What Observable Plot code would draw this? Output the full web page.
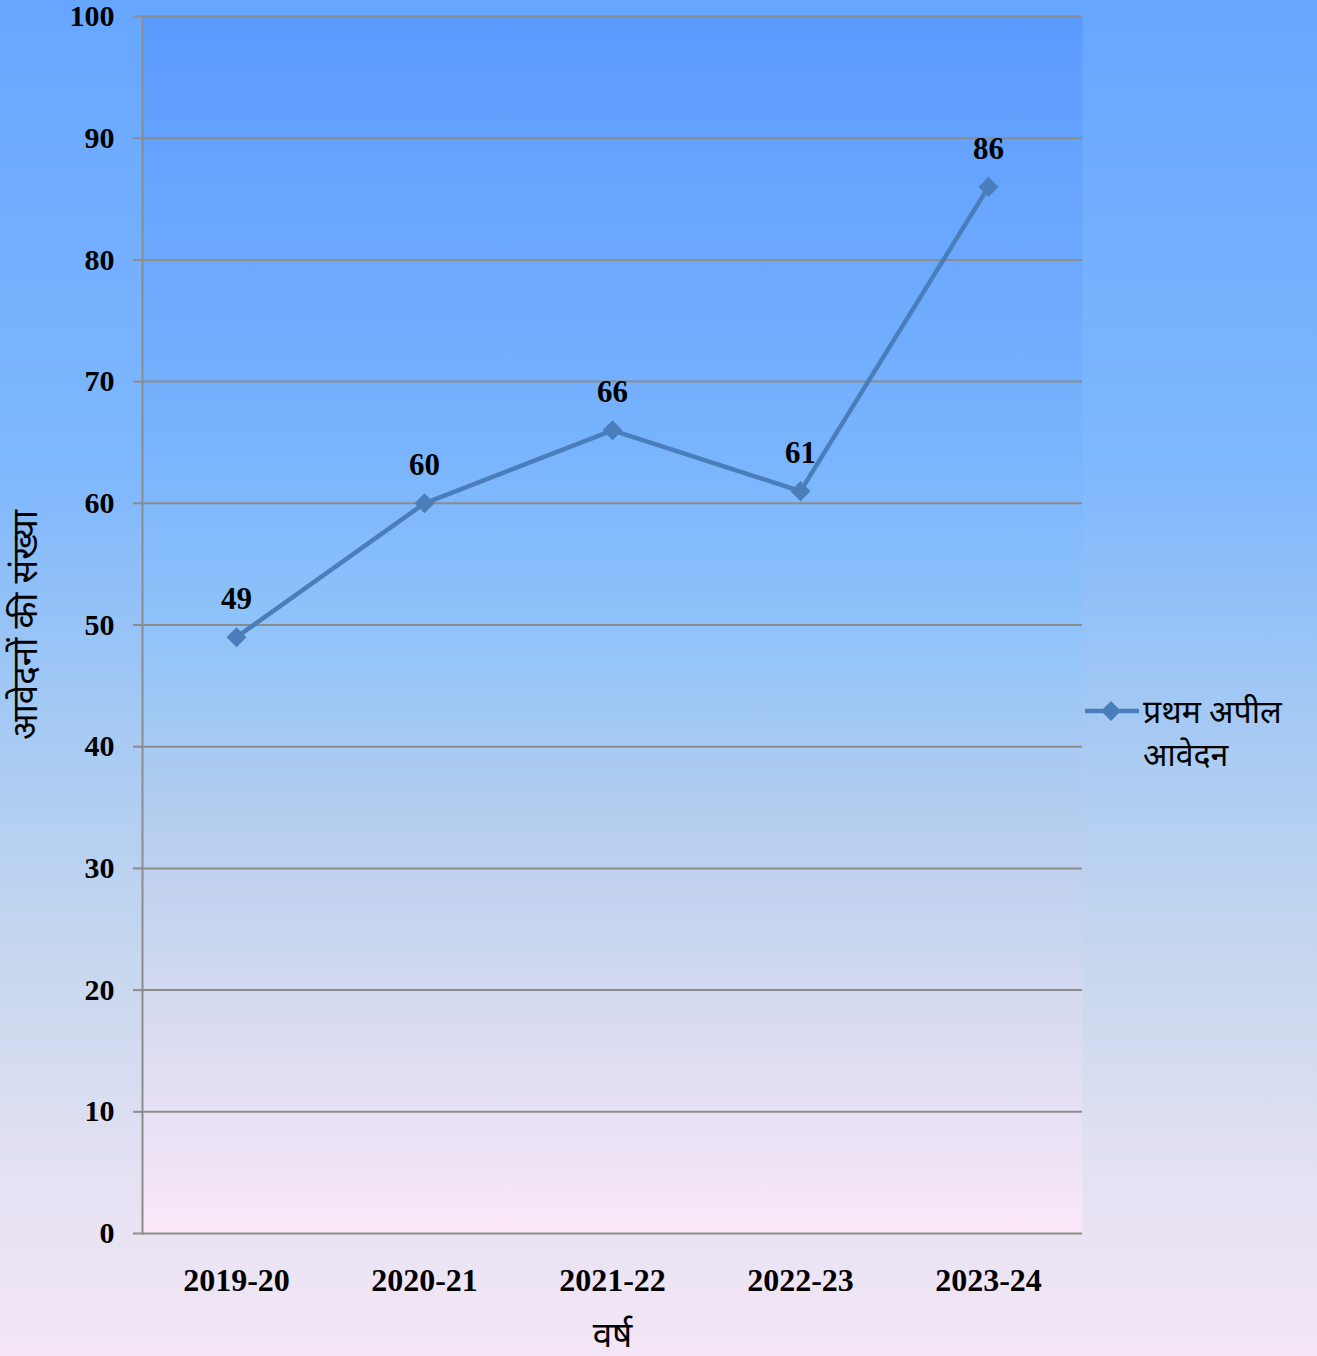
<!DOCTYPE html>
<html>
<head>
<meta charset="utf-8">
<script src="https://cdn.jsdelivr.net/npm/d3@7"></script>
<script src="https://cdn.jsdelivr.net/npm/@observablehq/plot@0.6"></script>
<style>
  html, body { margin: 0; padding: 0; }
  #wrap {
    position: relative; width: 1317px; height: 1356px; overflow: hidden;
    background: linear-gradient(to bottom, #66a6ff 0%, #7fb8fd 35%, #a9cbf3 55%, #c9d8ee 72%, #e6e2f3 88%, #f4e6f6 100%);
  }
  #legend {
    position: absolute; left: 1084px; top: 689px;
    font-family: "Noto Sans", "DejaVu Sans", sans-serif; font-size: 32px; color: #000;
  }
  #legend svg { position: absolute; left: 0; top: 12px; }
  #legend .txt { position: absolute; left: 59px; width: 240px; white-space: nowrap; line-height: 43px; height: 43px; }
</style>
</head>
<body>
<div id="wrap"></div>
<script>
const years = ["2019-20", "2020-21", "2021-22", "2022-23", "2023-24"];
const appeals = [49, 60, 66, 61, 86];
const yTicks = [0, 10, 20, 30, 40, 50, 60, 70, 80, 90, 100];
const yLabel = "आवेदनों की संख्या";
const xLabel = "वर्ष";
const seriesName = ["प्रथम अपील", "आवेदन"];

const data = years.map((y, i) => ({year: y, value: appeals[i]}));
const lineColor = "#4a7ebb";
const gridColor = "#8c8c8c";
const hindiFont = "'Noto Sans', 'DejaVu Sans', sans-serif";

const svg = Plot.plot({
  width: 1317, height: 1356,
  marginLeft: 142, marginRight: 235, marginTop: 16, marginBottom: 123,
  x: {type: "point", domain: years, padding: 0.5},
  y: {domain: [0, 100]},
  style: {fontFamily: "'Liberation Serif', 'Times New Roman', serif", fontWeight: "bold", color: "#000", background: "transparent", overflow: "visible"},
  marks: [
    Plot.frame({fill: "url(#plotGrad)", stroke: null}),
    Plot.gridY(yTicks, {stroke: gridColor, strokeOpacity: 1, strokeWidth: 2}),
    Plot.frame({anchor: "left", stroke: gridColor, strokeWidth: 2}),
    Plot.axisY(yTicks, {tickSize: 9, tickPadding: 19, stroke: gridColor, strokeWidth: 2, fontSize: 30, label: null}),
    Plot.axisX({tickSize: 0, tickPadding: 35, fontSize: 32, label: null}),
    Plot.line(data, {x: "year", y: "value", stroke: lineColor, strokeWidth: 4.5}),
    Plot.dot(data, {x: "year", y: "value", symbol: "square", r: 8, rotate: 45, fill: lineColor, stroke: null}),
    Plot.text(data, {x: "year", y: "value", text: d => String(d.value), dy: -38, fontSize: 31, fontWeight: "bold", fill: "#000"}),
    Plot.text([yLabel], {frameAnchor: "left", dx: -117, rotate: -90, textAnchor: "middle", fontSize: 35, fontWeight: "normal",
      fontFamily: hindiFont, fill: "#000"}),
    Plot.text([xLabel], {frameAnchor: "bottom", dy: 113, textAnchor: "middle", fontSize: 35, fontWeight: "normal",
      fontFamily: hindiFont, fill: "#000"})
  ]
});

const defs = d3.select(svg).insert("defs", ":first-child");
const g = defs.append("linearGradient").attr("id", "plotGrad").attr("x1", 0).attr("y1", 0).attr("x2", 0).attr("y2", 1);
[[0, "#5b9bff"], [0.35, "#78b3fd"], [0.5, "#8fc3fa"], [0.65, "#b3cdef"], [0.8, "#d3d9ef"], [1, "#fae8f8"]]
  .forEach(([o, c]) => g.append("stop").attr("offset", o).attr("stop-color", c));

document.getElementById("wrap").appendChild(svg);

const legend = document.createElement("div");
legend.id = "legend";
legend.innerHTML = `<svg width="56" height="20"><line x1="1" y1="10" x2="55" y2="10" stroke="${lineColor}" stroke-width="4.5"/><path d="M27 0 L37 10 L27 20 L17 10 Z" fill="${lineColor}"/></svg>` +
  seriesName.map((s, i) => `<div class="txt" style="top:${i * 43}px">${s}</div>`).join("");
document.getElementById("wrap").appendChild(legend);
</script>
</body>
</html>
